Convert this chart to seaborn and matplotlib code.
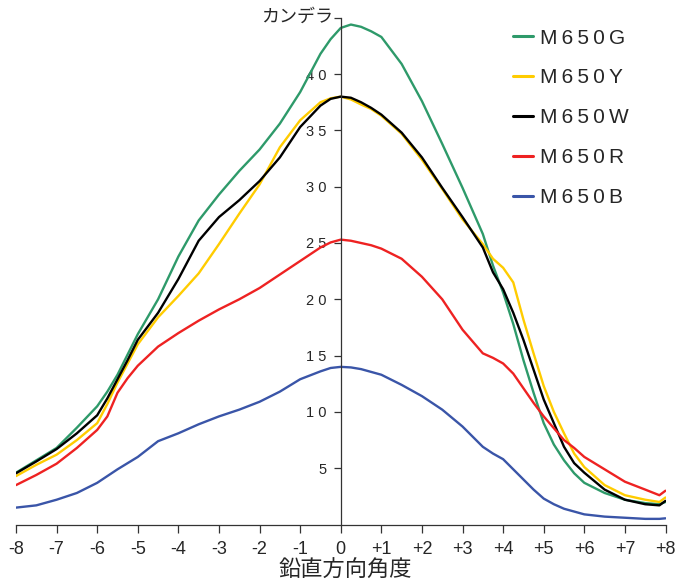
import numpy as np
import pandas as pd
import matplotlib
matplotlib.use('Agg')
import matplotlib.pyplot as plt
import seaborn as sns

# ── data ────────────────────────────────────────────────────────────────────
angles = [-8, -7.5, -7, -6.5, -6, -5.75, -5.5, -5.25, -5, -4.5, -4, -3.5, -3, -2.5, -2, -1.5,
          -1, -0.5, -0.25, 0, 0.25, 0.5, 0.75, 1, 1.5, 2, 2.5, 3, 3.5, 3.75, 4, 4.25,
          4.5, 4.75, 5, 5.25, 5.5, 5.75, 6, 6.5, 7, 7.5, 7.85, 8]

m650g = [4.6, 5.7, 6.8, 8.6, 10.5, 11.8, 13.3, 15.1, 16.9, 20.0, 23.8, 27.0, 29.3, 31.4, 33.3, 35.6,
         38.4, 41.8, 43.1, 44.1, 44.4, 44.2, 43.8, 43.3, 40.9, 37.6, 33.8, 29.9, 25.8, 23.0, 20.6, 17.8,
         14.6, 11.7, 9.0, 7.1, 5.7, 4.55, 3.7, 2.8, 2.2, 1.9, 1.8, 2.0]
m650y = [4.3, 5.3, 6.2, 7.5, 9.0, 10.7, 12.6, 14.3, 16.0, 18.4, 20.3, 22.3, 24.9, 27.6, 30.2, 33.5,
         35.9, 37.5, 37.85, 38.0, 37.75, 37.3, 36.9, 36.3, 34.7, 32.4, 29.8, 27.1, 24.9, 23.6, 22.8, 21.5,
         18.2, 15.2, 12.3, 10.0, 8.1, 6.3, 5.1, 3.5, 2.6, 2.2, 2.0, 2.4]
m650w = [4.55, 5.6, 6.7, 8.1, 9.7, 11.2, 12.9, 14.6, 16.4, 18.8, 21.8, 25.2, 27.3, 28.8, 30.5, 32.6,
         35.3, 37.2, 37.8, 38.0, 37.9, 37.5, 37.0, 36.4, 34.8, 32.6, 29.9, 27.3, 24.6, 22.4, 20.9, 18.8,
         16.4, 13.75, 11.1, 9.0, 6.9, 5.45, 4.6, 3.1, 2.2, 1.8, 1.7, 2.1]
m650r = [3.5, 4.4, 5.4, 6.8, 8.4, 9.6, 11.7, 13.0, 14.1, 15.8, 17.0, 18.1, 19.1, 20.0, 21.0, 22.2,
         23.4, 24.6, 25.05, 25.3, 25.2, 25.0, 24.8, 24.5, 23.6, 22.0, 20.0, 17.3, 15.2, 14.8, 14.3, 13.4,
         12.1, 10.8, 9.6, 8.55, 7.5, 6.8, 6.0, 4.9, 3.8, 3.1, 2.6, 3.0]
m650b = [1.5, 1.7, 2.2, 2.8, 3.7, 4.3, 4.9, 5.45, 6.0, 7.4, 8.1, 8.9, 9.6, 10.2, 10.9, 11.8,
         12.9, 13.6, 13.9, 14.0, 13.95, 13.8, 13.55, 13.3, 12.4, 11.4, 10.2, 8.7, 6.9, 6.3, 5.8, 4.9,
         4.0, 3.1, 2.3, 1.8, 1.4, 1.15, 0.9, 0.7, 0.6, 0.5, 0.5, 0.55]

series_names = ['M650G', 'M650Y', 'M650W', 'M650R', 'M650B']
series_values = [m650g, m650y, m650w, m650r, m650b]
series_colors = ['#2E9A6A', '#FFCC00', '#000000', '#EE2222', '#3A55A8']

x_ticks = list(range(-8, 9))
x_ticklabels = [str(t) if t <= 0 else f'+{t}' for t in x_ticks]
y_ticks = [5, 10, 15, 20, 25, 30, 35, 40, 45]
y_ticklabels = [' '.join(str(t)) if t < 45 else '' for t in y_ticks]

# ── plot ─────────────────────────────────────────────────────────────────────
sns.set_style('white')
plt.rcParams['font.family'] = ['Liberation Sans', 'Noto Sans CJK JP', 'DejaVu Sans']

fig = plt.figure(figsize=(6.85, 5.81), dpi=100)
ax = fig.add_axes([16 / 685, 1 - 524.5 / 581, (665.5 - 16) / 685, (524.5 - 17.8) / 581])

for name, vals, col in zip(series_names, series_values, series_colors):
    sns.lineplot(x=angles, y=vals, color=col, linewidth=1.7, label='\u2009'.join(name),
                 sort=False, ax=ax)

ax.set_xlim(-8, 8)
ax.set_ylim(0, 45)

ax.spines['top'].set_visible(False)
ax.spines['right'].set_visible(False)
ax.spines['left'].set_position(('data', 0))
for s in ['left', 'bottom']:
    ax.spines[s].set_color('#333333')
    ax.spines[s].set_linewidth(0.9)

ax.set_xticks(x_ticks)
ax.set_xticklabels(x_ticklabels, fontsize=13)
ax.set_yticks(y_ticks)
ax.set_yticklabels(y_ticklabels, fontsize=10.5)
ax.tick_params(axis='x', bottom=True, direction='out', length=6, width=0.9,
               color='#333333', pad=6)
ax.tick_params(axis='y', left=True, direction='out', length=5, width=0.9,
               color='#333333', pad=5)
ax.set_xlabel('')
ax.set_ylabel('')

leg = ax.legend(loc='upper left', bbox_to_anchor=(513 / 685, 1 - 28.5 / 581),
                bbox_transform=fig.transFigure, frameon=False,
                handlelength=0.95, handletextpad=0.35, labelspacing=1.0,
                borderpad=0, borderaxespad=0, prop={'size': 15})
for line in leg.get_lines():
    line.set_linewidth(2.2)

fig.text(333 / 685, 1 - 17 / 581, 'カンデラ', ha='right', va='center', fontsize=13,
         family=['Noto Sans CJK JP', 'DejaVu Sans'])
fig.text(345 / 685, 1 - 570 / 581, '鉛直方向角度', ha='center', va='center', fontsize=16,
         family=['Noto Sans CJK JP', 'DejaVu Sans'])

fig.savefig('out.png', dpi=100, facecolor='white')
